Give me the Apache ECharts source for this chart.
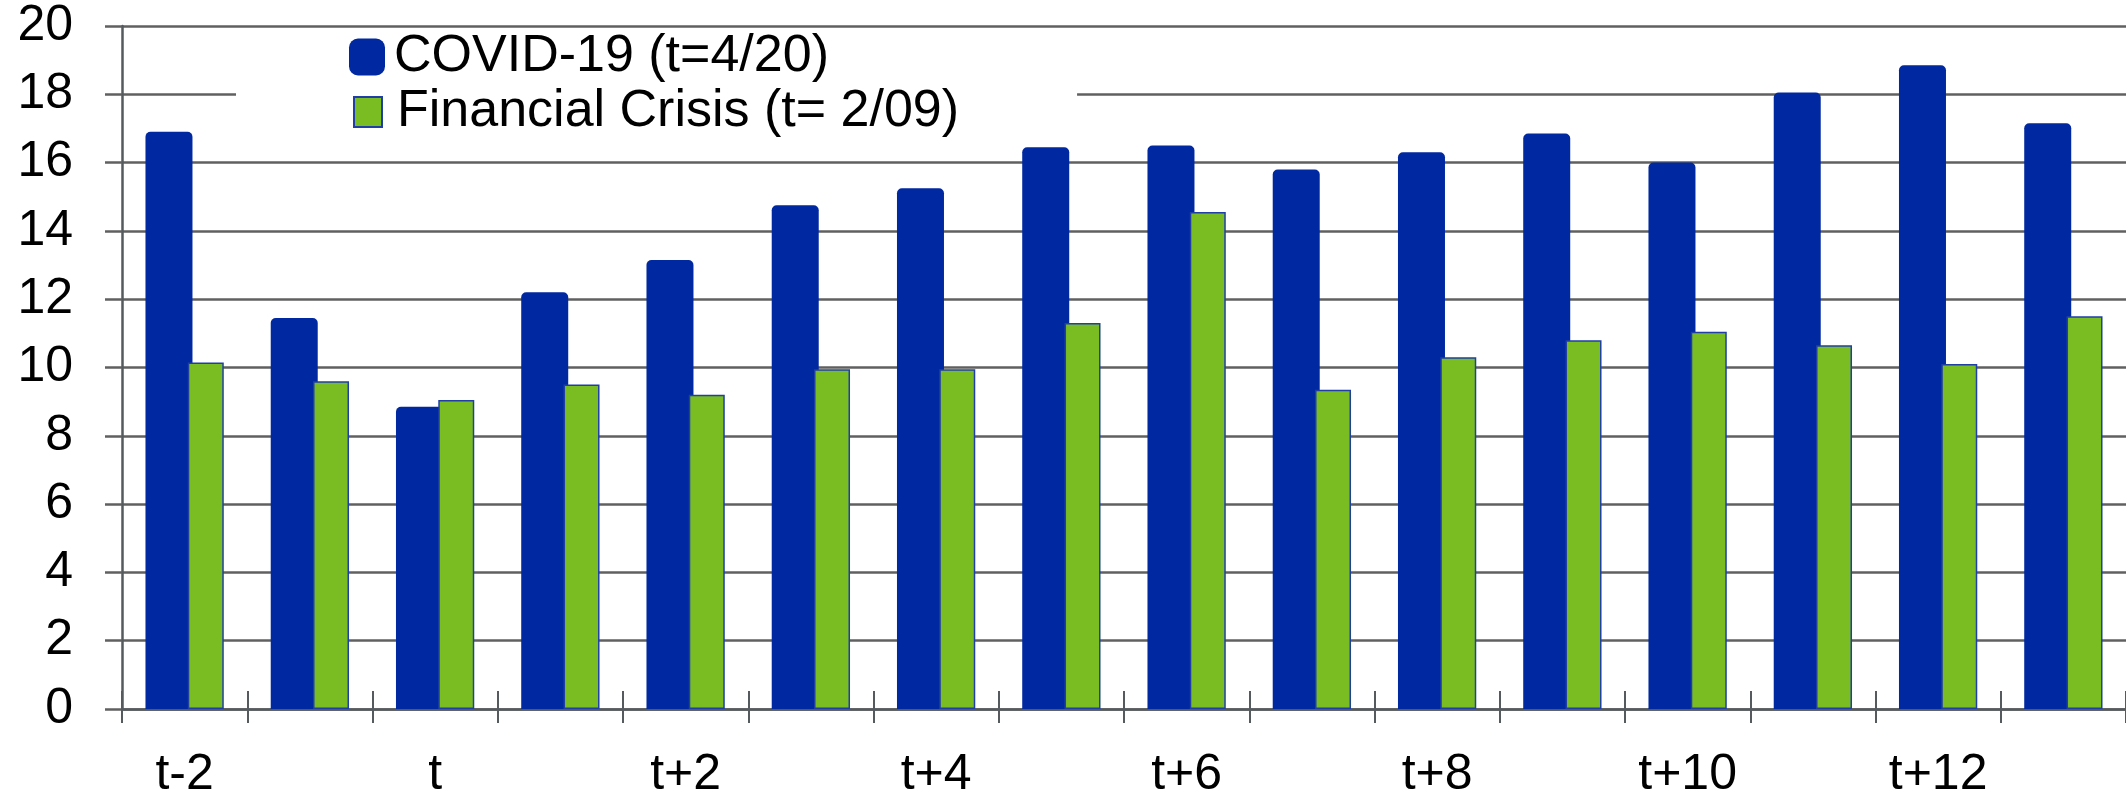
<!DOCTYPE html>
<html>
<head>
<meta charset="utf-8">
<title>COVID-19 vs Financial Crisis</title>
<script src="https://cdn.jsdelivr.net/npm/echarts@6/dist/echarts.min.js"></script>
<style>
  html, body { margin: 0; padding: 0; background: #ffffff; }
  #chart { width: 2126px; height: 800px; }
</style>
</head>
<body>
<div id="chart"></div>
<script>
// Months relative to the reference month t
const categories = ['t-2', 't-1', 't', 't+1', 't+2', 't+3', 't+4', 't+5', 't+6',
  't+7', 't+8', 't+9', 't+10', 't+11', 't+12', 't+13'];

const covidName = 'COVID-19 (t=4/20)';
const crisisName = 'Financial Crisis (t= 2/09)';

const covidValues = [16.9, 11.45, 8.85, 12.2, 13.15, 14.75, 15.25, 16.45, 16.5,
  15.8, 16.3, 16.85, 16.0, 18.05, 18.85, 17.15];
const crisisValues = [10.15, 9.6, 9.05, 9.5, 9.2, 9.95, 9.95, 11.3, 14.55,
  9.35, 10.3, 10.8, 11.05, 10.65, 10.1, 11.5];

const yMin = 0;
const yMax = 20;
const yStep = 2;

const BLUE = '#0028a0';
const GREEN = '#79bd22';
const AXIS_GREY = '#555a5e';
const GRID_GREY = '#606060';
const FONT = "'Liberation Sans', Arial, sans-serif";

const chart = echarts.init(document.getElementById('chart'), null, { renderer: 'canvas' });

chart.setOption({
  animation: false,
  backgroundColor: '#ffffff',
  grid: { left: 122, right: -6, top: 26, bottom: 89, containLabel: false },
  legend: [
    {
      data: [{ name: covidName, icon: 'roundRect' }],
      left: 349, top: 31, z: 6,
      padding: 0,
      itemWidth: 36, itemHeight: 37,
      textStyle: { fontFamily: FONT, fontSize: 52, color: '#000', padding: [0, 0, 0, 4] },
      selectedMode: false
    },
    {
      data: [{ name: crisisName, icon: 'rect' }],
      left: 236, top: 78, z: 5,
      padding: [8, 118, 8, 117],
      backgroundColor: '#ffffff',
      itemWidth: 28, itemHeight: 30,
      itemStyle: { borderColor: '#1f3fa6', borderWidth: 2 },
      textStyle: { fontFamily: FONT, fontSize: 52, color: '#000', padding: [0, 0, 0, 10] },
      selectedMode: false
    }
  ],
  xAxis: [
    {
      type: 'category',
      data: categories,
      position: 'bottom',
      axisLine: { show: true, lineStyle: { color: AXIS_GREY, width: 2.5 } },
      axisTick: { show: true, length: 14, interval: 0, lineStyle: { color: AXIS_GREY, width: 2 } },
      axisLabel: { interval: 1, margin: 41, fontFamily: FONT, fontSize: 50, color: '#000' },
      splitLine: { show: false }
    },
    {
      // upper half of the crossing category ticks
      type: 'category',
      data: categories,
      position: 'bottom',
      axisLine: { show: false },
      axisTick: { show: true, inside: true, length: 18, interval: 0, lineStyle: { color: AXIS_GREY, width: 2 } },
      axisLabel: { show: false },
      splitLine: { show: false }
    }
  ],
  yAxis: {
    type: 'value',
    min: yMin, max: yMax, interval: yStep,
    axisLine: { show: true, lineStyle: { color: AXIS_GREY, width: 2.5 } },
    axisTick: { show: true, length: 17, lineStyle: { color: GRID_GREY, width: 2.5 } },
    axisLabel: { margin: 49, fontFamily: FONT, fontSize: 50, color: '#000' },
    splitLine: { show: true, lineStyle: { color: GRID_GREY, width: 2.5 } }
  },
  series: [
    {
      name: covidName,
      type: 'bar',
      xAxisIndex: 0,
      data: covidValues,
      barWidth: 47,
      barGap: '-10%',
      itemStyle: { color: BLUE, borderRadius: [5, 5, 0, 0] }
    },
    {
      name: crisisName,
      type: 'bar',
      xAxisIndex: 0,
      data: crisisValues,
      barWidth: 36,
      barGap: '-10%',
      itemStyle: { color: GREEN, borderColor: '#1f3fa6', borderWidth: 1.5 }
    }
  ]
});
</script>
</body>
</html>
